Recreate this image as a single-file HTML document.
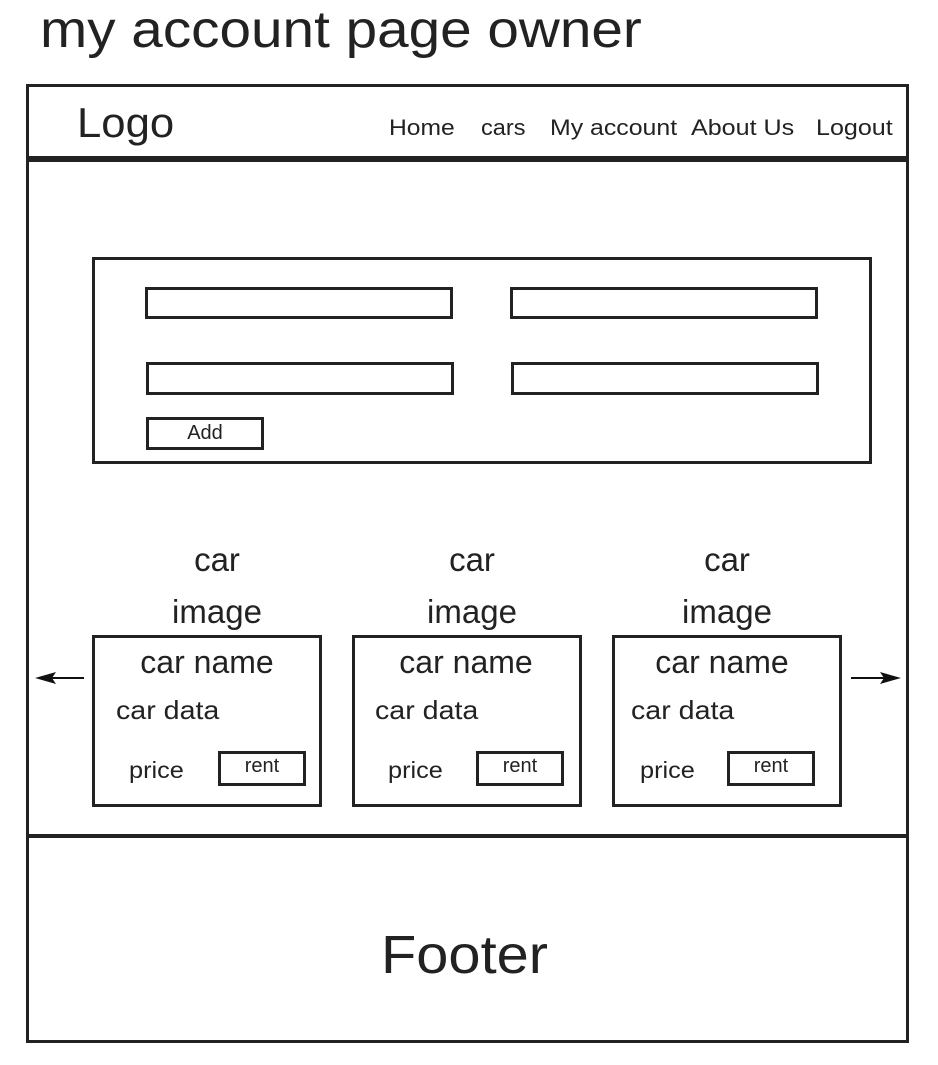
<!DOCTYPE html>
<html><head><meta charset="utf-8"><style>
body{margin:0;width:938px;height:1065px;background:#fff;position:relative;overflow:hidden;font-family:"Liberation Sans","DejaVu Sans",sans-serif;color:#222}
.a{position:absolute;box-sizing:border-box}
.b{border:3px solid #222}
.t{position:absolute;white-space:nowrap;line-height:1;transform-origin:0 0}
</style></head><body>
<div class="t" style="left:40px;top:4px;font-size:52px;transform:scaleX(1.09)">my account page owner</div>
<div class="a b" style="left:26px;top:84px;width:883px;height:959px"></div>
<div class="a" style="left:26px;top:156px;width:883px;height:6px;background:#222"></div>
<div class="t" style="left:77px;top:102px;font-size:42px;transform:scaleX(1.04)">Logo</div>
<div class="t" style="left:389px;top:117px;font-size:22px;transform:scaleX(1.12)">Home</div>
<div class="t" style="left:481px;top:117px;font-size:22px;transform:scaleX(1.07)">cars</div>
<div class="t" style="left:550px;top:117px;font-size:22px;transform:scaleX(1.13)">My account</div>
<div class="t" style="left:691px;top:117px;font-size:22px;transform:scaleX(1.14)">About Us</div>
<div class="t" style="left:816px;top:117px;font-size:22px;transform:scaleX(1.14)">Logout</div>

<div class="a b" style="left:92px;top:257px;width:780px;height:207px"></div>
<div class="a b" style="left:145px;top:287px;width:308px;height:32px"></div>
<div class="a b" style="left:510px;top:287px;width:308px;height:32px"></div>
<div class="a b" style="left:146px;top:362px;width:308px;height:33px"></div>
<div class="a b" style="left:511px;top:362px;width:308px;height:33px"></div>
<div class="a b" style="left:146px;top:417px;width:118px;height:33px;font-size:20px;text-align:center;line-height:26px">Add</div>

<div class="a" style="left:26px;top:834px;width:883px;height:4px;background:#222"></div>
<div class="t" style="left:381px;top:928px;font-size:54px;transform:scaleX(1.07)">Footer</div>

<svg class="a" style="left:0;top:0" width="938" height="1065">
<g><line x1="48" y1="678" x2="84" y2="678" stroke="#111" stroke-width="2"/><polygon points="35,678 56,672 52,678 56,684" fill="#111"/></g>
<g><line x1="851" y1="678" x2="888" y2="678" stroke="#111" stroke-width="2"/><polygon points="901,678 880,672 884,678 880,684" fill="#111"/></g>
</svg>

<div id="cards"></div>
<script>
const xs=[92,352,612];
const imgC=[217,472,727];
const nameC=[207,466,722];
const dataX=[116,375,631];
const priceX=[129,388,640];
const rentX=[218,476,727];
const c=document.getElementById('cards');
xs.forEach((x,i)=>{
  const h=`
  <div class="t" style="left:${imgC[i]-60}px;width:120px;text-align:center;top:534px;font-size:33px;line-height:52px">car<br>image</div>
  <div class="a b" style="left:${x}px;top:635px;width:230px;height:172px"></div>
  <div class="t" style="left:${nameC[i]-90}px;width:180px;text-align:center;top:646px;font-size:32px">car name</div>
  <div class="t" style="left:${dataX[i]}px;top:697px;font-size:26px;transform:scaleX(1.1)">car data</div>
  <div class="t" style="left:${priceX[i]}px;top:759px;font-size:23px;transform:scaleX(1.1)">price</div>
  <div class="a b" style="left:${rentX[i]}px;top:751px;width:88px;height:35px;text-align:center;font-size:20px;line-height:24px">rent</div>`;
  c.insertAdjacentHTML('beforeend',h);
});
</script>
</body></html>
